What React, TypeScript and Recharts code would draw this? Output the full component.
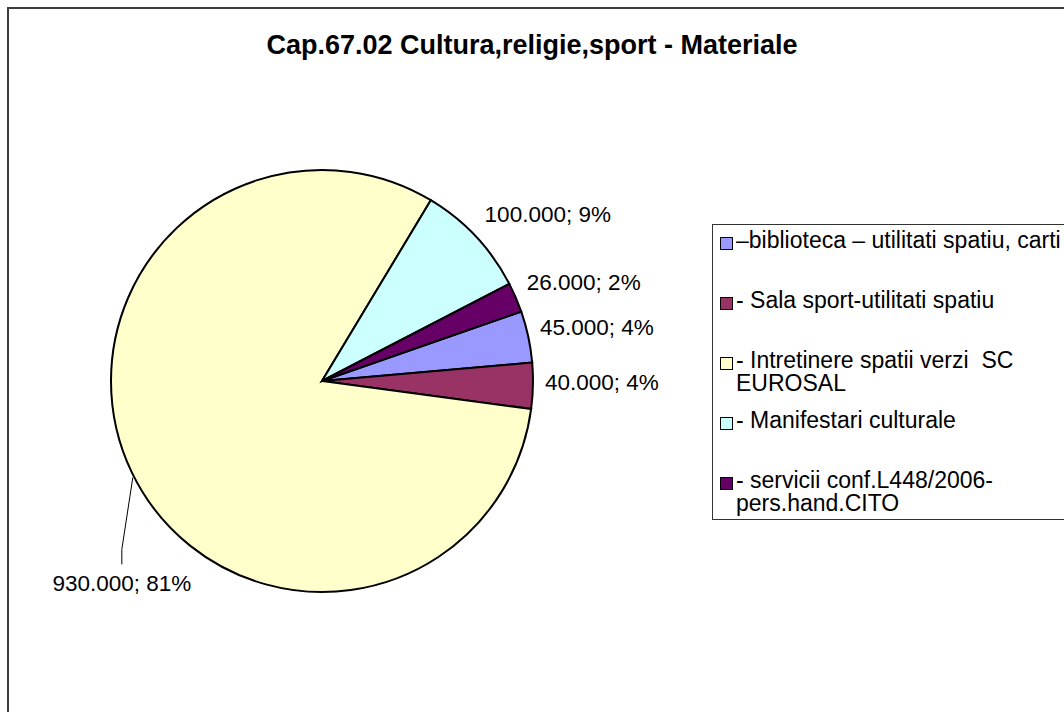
import React from 'react';
import { PieChart, Pie, Cell, Legend } from 'recharts';

const chartTitle = 'Cap.67.02 Cultura,religie,sport - Materiale';

const categories = [
  '–biblioteca – utilitati spatiu, carti',
  '- Sala sport-utilitati spatiu',
  '- Intretinere spatii verzi  SC EUROSAL',
  '- Manifestari culturale',
  '- servicii conf.L448/2006-pers.hand.CITO',
];

const amounts = [45000, 40000, 930000, 100000, 26000];

// percentages as printed on the sheet's labels
const shownPercents = [4, 4, 81, 9, 2];

const sliceColors = ['#9999FF', '#993366', '#FFFFCC', '#CCFFFF', '#660066'];

const data = categories.map((name, i) => ({ name, value: amounts[i], pct: shownPercents[i] }));

const FONT = '"Liberation Sans", Arial, Helvetica, sans-serif';
const RAD = Math.PI / 180;
const START = 19.2;

const fmt = (v: number) => String(v).replace(/\B(?=(\d{3})+(?!\d))/g, '.');

const renderLabel = (props: any) => {
  const { cx, cy, midAngle, outerRadius, percent, value, payload } = props;
  const pct = payload && payload.pct != null ? payload.pct : Math.round(percent * 100);
  const text = `${fmt(value)}; ${pct}%`;
  const c = Math.cos(midAngle * RAD);
  const s = Math.sin(midAngle * RAD);

  // big slice: label pulled out with a leader line
  if (percent > 0.5) {
    const ex = cx + outerRadius * c;
    const ey = cy - outerRadius * s;
    const lx = ex - 10;
    return (
      <g>
        <polyline
          points={`${ex + 1},${ey + 5} ${lx},${ey + 77} ${lx},${ey + 92}`}
          fill="none"
          stroke="#000"
          strokeWidth={1}
        />
        <text
          x={lx}
          y={ey + 119}
          textAnchor="middle"
          fontFamily={FONT}
          fontSize={22.5}
          fill="#000"
        >
          {text}
        </text>
      </g>
    );
  }

  const r = outerRadius + 12;
  const x = cx + r * c;
  const y = cy - r * s - 4 - 15 * s;
  return (
    <text
      x={x}
      y={y}
      textAnchor={c >= 0 ? 'start' : 'end'}
      dominantBaseline="central"
      fontFamily={FONT}
      fontSize={22.5}
      fill="#000"
    >
      {text}
    </text>
  );
};

const renderLegend = () => (
  <div
    style={{
      boxSizing: 'border-box',
      width: '100%',
      height: '100%',
      border: '1px solid #333',
      background: '#fff',
      paddingTop: 3.5,
      fontFamily: FONT,
      fontSize: 23,
      lineHeight: '23px',
      color: '#000',
    }}
  >
    {categories.map((name, i) => (
      <div key={name} style={{ display: 'flex', height: 60 }}>
        <div
          style={{
            boxSizing: 'border-box',
            width: 13,
            height: 13,
            marginLeft: 7,
            marginTop: 8.5,
            border: '1.5px solid #000',
            background: sliceColors[i],
            flex: 'none',
          }}
        />
        <div style={{ marginLeft: 3, width: 340, whiteSpace: 'pre-wrap' }}>{name}</div>
      </div>
    ))}
  </div>
);

export default function App() {
  return (
    <div
      style={{
        position: 'absolute',
        left: 0,
        top: 0,
        width: 1064,
        height: 712,
        overflow: 'hidden',
        background: '#fff',
      }}
    >
      <div
        style={{
          position: 'absolute',
          left: 7,
          top: 7,
          width: 1120,
          height: 760,
          border: '2px solid #3c3c3c',
        }}
      />
      <div
        style={{
          position: 'absolute',
          left: 0,
          top: 32,
          width: 1064,
          textAlign: 'center',
          fontFamily: FONT,
          fontWeight: 'bold',
          fontSize: 27,
          lineHeight: '27px',
          color: '#000',
          zIndex: 2,
        }}
      >
        {chartTitle}
      </div>
      <div style={{ position: 'absolute', left: 0, top: 0 }}>
        <PieChart width={1064} height={712} margin={{ top: 0, right: 0, bottom: 0, left: 0 }}>
          <Pie
            data={data}
            dataKey="value"
            nameKey="name"
            cx={322}
            cy={381}
            outerRadius={211}
            startAngle={START}
            endAngle={START - 360}
            stroke="#000"
            strokeWidth={2}
            label={renderLabel}
            labelLine={false}
            isAnimationActive={false}
          >
            {data.map((d, i) => (
              <Cell key={d.name} fill={sliceColors[i]} stroke="#000" strokeWidth={2} />
            ))}
          </Pie>
          <Legend
            layout="vertical"
            align="right"
            verticalAlign="middle"
            content={renderLegend}
            wrapperStyle={{ left: 712, top: 224, width: 400, height: 296, right: 'auto', bottom: 'auto' }}
          />
        </PieChart>
      </div>
    </div>
  );
}
